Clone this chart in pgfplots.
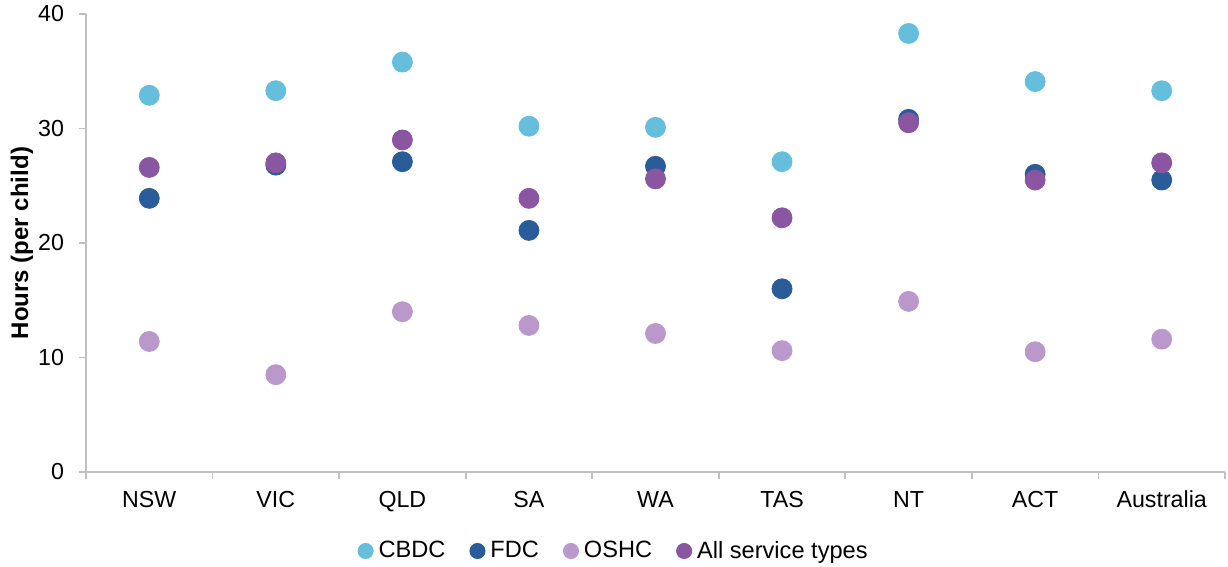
\documentclass[border=0pt]{standalone}
\usepackage{fontspec}
\setmainfont{Liberation Sans}
\usepackage{pgfplots}
\pgfplotsset{compat=1.18}
\definecolor{cbdc}{HTML}{66BEDD}
\definecolor{fdc}{HTML}{2A5C9A}
\definecolor{oshc}{HTML}{BB98CB}
\definecolor{allst}{HTML}{8A55A1}
\definecolor{axgrey}{HTML}{BFBFBF}
\begin{document}
\begin{tikzpicture}
\path[use as bounding box] (-43pt,-47.5pt) rectangle (571pt,236pt);
\begin{axis}[
  at={(0,0)}, anchor=south west,
  scale only axis, width=569.5pt, height=229pt,
  xmin=-0.5, xmax=8.5, ymin=0, ymax=40,
  axis x line*=bottom, axis y line*=left,
  axis line style={axgrey, line width=0.9pt},
  xtick={0,...,8},
  xticklabels={NSW,VIC,QLD,SA,WA,TAS,NT,ACT,Australia},
  major x tick style={draw=none},
  minor xtick={-0.5,0.5,...,8.5},
  minor x tick style={axgrey, line width=0.9pt},
  minor tick length=3.5pt,
  ytick={0,10,20,30,40},
  major y tick style={axgrey, line width=0.9pt},
  major tick length=3.5pt,
  tick align=outside,
  tick label style={font=\fontsize{11.6}{13.5}\selectfont, text=black},
  /pgf/number format/assume math mode=true,
  yticklabel style={xshift=-4pt},
  xticklabel style={yshift=-2.5pt},
  ylabel={\textbf{Hours (per child)}},
  ylabel style={at={(axis description cs:0,0.5)}, anchor=center, yshift=32pt, font=\fontsize{12}{14}\selectfont},
  legend columns=4,
  legend style={draw=none, fill=none, at={(rel axis cs:0.4636,-0.1725)}, anchor=center,
    font=\fontsize{11.8}{13.5}\selectfont,
    /tikz/every odd column/.append style={column sep=1.5pt},
    /tikz/every even column/.append style={column sep=11pt},
    nodes={inner sep=1.2pt}},
  legend image code/.code={\draw[#1,mark size=3.8pt] plot[only marks] coordinates {(0cm,0cm)};},
  clip=false,
]
\addplot[only marks, mark=*, mark size=5pt, color=cbdc, mark options={draw=cbdc, fill=cbdc}] coordinates {
(0,32.9) (1,33.3) (2,35.8) (3,30.2) (4,30.1) (5,27.1) (6,38.3) (7,34.1) (8,33.3)};
\addlegendentry{CBDC}
\addplot[only marks, mark=*, mark size=5pt, color=fdc, mark options={draw=fdc, fill=fdc}] coordinates {
(0,23.9) (1,26.8) (2,27.1) (3,21.1) (4,26.7) (5,16.0) (6,30.8) (7,26.0) (8,25.5)};
\addlegendentry{FDC}
\addplot[only marks, mark=*, mark size=5pt, color=oshc, mark options={draw=oshc, fill=oshc}] coordinates {
(0,11.4) (1,8.5) (2,14.0) (3,12.8) (4,12.1) (5,10.6) (6,14.9) (7,10.5) (8,11.6)};
\addlegendentry{OSHC}
\addplot[only marks, mark=*, mark size=5pt, color=allst, mark options={draw=allst, fill=allst}] coordinates {
(0,26.6) (1,27.0) (2,29.0) (3,23.9) (4,25.6) (5,22.2) (6,30.5) (7,25.5) (8,27.0)};
\addlegendentry{All service types}
\end{axis}
\end{tikzpicture}
\end{document}
